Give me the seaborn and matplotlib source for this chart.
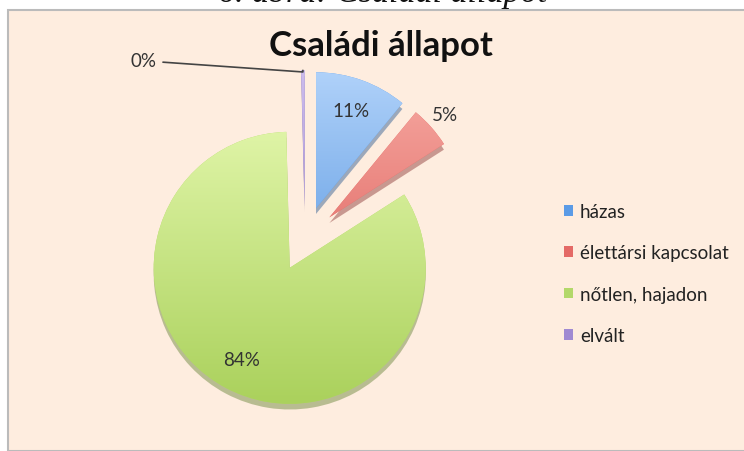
import numpy as np
import matplotlib.pyplot as plt
import seaborn as sns
from matplotlib.patches import Rectangle

# data
labels = ["házas", "élettársi kapcsolat", "nőtlen, hajadon", "elvált"]
values = [11, 5, 84, 0.4]
base_colors = ["#5b9be6", "#e46a66", "#b3d86a", "#a08ad2"]
light_colors = ["#b2d3fa", "#f7aaa3", "#e0f5a8", "#cdbdee"]
dark_colors = ["#4a8ddc", "#d9534f", "#a9d05a", "#9580c8"]

sns.set_theme(style="white")
plt.rcParams["font.family"] = ["Lato", "DejaVu Sans"]

bg = "#feeddf"
fig = plt.figure(figsize=(7.44, 4.52), dpi=100)
fig.patch.set_facecolor("white")
fig.patches.append(Rectangle((8 / 744, 0), 1, 1 - 11 / 452, transform=fig.transFigure,
                             facecolor=bg, edgecolor="#bbbbbb", lw=1.5, zorder=-5))

# caption above the chart (cut off by the top edge, as in the source)
fig.text(383 / 744, 1 - 2 / 452, "6. ábra: Családi állapot", ha="center", va="baseline",
         fontsize=24.5, style="italic", family=["Liberation Serif"], color="#111111")

# pie axes: centre at (305, 240) px, radius 136 px
R = 136
half = 1.6
ax = fig.add_axes([(305 - half * R) / 744, (452 - 240 - half * R) / 452,
                   2 * half * R / 744, 2 * half * R / 452])
ax.set_facecolor("none")

wedges, texts, autotexts = ax.pie(
    values, colors=base_colors, startangle=90, counterclock=False,
    explode=[0.24] * 4, autopct="%1.0f%%", pctdistance=0.76,
    shadow={"ox": 0.0, "oy": -0.03, "shade": 0.35},
    textprops={"fontsize": 13.5, "color": "#333333"},
    wedgeprops={"linewidth": 0},
)

# vertical gradient inside each wedge
grad = np.linspace(0, 1, 256).reshape(-1, 1)
for w, lc, dc in zip(wedges, light_colors, dark_colors):
    cmap = sns.blend_palette([dc, lc], as_cmap=True)
    cx, cy = w.center
    im = ax.imshow(grad, cmap=cmap, origin="lower", aspect="auto",
                   extent=[cx - 1.05, cx + 1.05, cy - 1.05, cy + 1.05], zorder=w.get_zorder() + 0.1)
    im.set_clip_path(w)
ax.set_xlim(-half, half)
ax.set_ylim(-half, half)
ax.axis("off")

for t in autotexts:
    t.set_zorder(5)

# 5% label outside the red wedge
w = wedges[1]
ang = np.deg2rad((w.theta1 + w.theta2) / 2)
cx, cy = w.center
autotexts[1].set_position((cx + 1.14 * np.cos(ang), cy + 1.14 * np.sin(ang)))

# 0% label with leader line
w = wedges[3]
ang = np.deg2rad((w.theta1 + w.theta2) / 2)
cx, cy = w.center
autotexts[3].set_visible(False)
ax.annotate("0%", xy=(cx + w.r * np.cos(ang), cy + w.r * np.sin(ang)),
            xytext=(-1.28, 1.31), fontsize=13.5, color="#333333", va="center", ha="left",
            arrowprops=dict(arrowstyle="-", color="#444444", lw=1.2, shrinkA=2, shrinkB=0,
                            connectionstyle="angle,angleA=-4,angleB=90,rad=0"),
            zorder=6)

fig.text(381 / 744, 1 - 56 / 452, "Családi állapot", ha="center", va="baseline",
         fontsize=25, fontweight="bold", color="#111111")

ax.legend(wedges, labels, loc="upper left", bbox_to_anchor=(547 / 744, 1 - 187 / 452),
          bbox_transform=fig.transFigure, frameon=False, fontsize=13.5,
          handlelength=0.5, handleheight=0.5, handletextpad=0.35, labelspacing=1.3,
          labelcolor="#222222")

fig.savefig("out.png", dpi=100, facecolor=fig.get_facecolor())
